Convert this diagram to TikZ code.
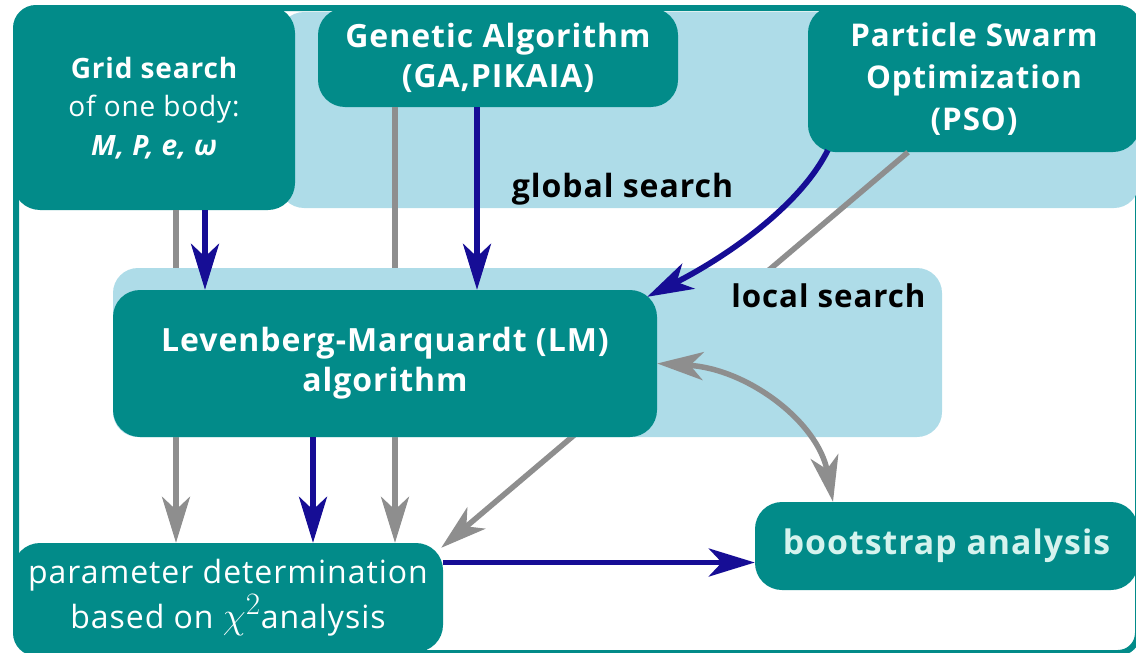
\documentclass[tikz,border=0pt]{standalone}
\usepackage{fontspec}
\setmainfont{Open Sans}[LetterSpace=3]
\usetikzlibrary{arrows.meta}
\definecolor{tealbox}{HTML}{028B89}
\definecolor{lblue}{HTML}{AEDCE8}
\definecolor{navyarr}{HTML}{160D95}
\definecolor{grayarr}{HTML}{8E8E8E}
\definecolor{mint}{HTML}{D5F3EE}
\tikzset{
  tbox/.style={fill=tealbox, rounded corners=27pt, text=white, align=center, inner sep=0pt},
  region/.style={fill=lblue, rounded corners=25pt, inner sep=0pt},
  bluearr/.style={draw=navyarr, line width=5.7pt, -{Stealth[length=46pt,width=28pt,inset=13pt]}},
  grayarr/.style={draw=grayarr, line width=5.5pt, -{Stealth[length=46pt,width=28pt,inset=13pt]}},
  graydbl/.style={draw=grayarr, line width=5.5pt, {Stealth[length=46pt,width=28pt,inset=13pt]}-{Stealth[length=46pt,width=28pt,inset=13pt]}},
  lab/.style={anchor=base, text=black},
}
\begin{document}
\begin{tikzpicture}[x=1pt,y=-1pt]
\useasboundingbox (0,0) rectangle (1136,653);
\clip (0,0) rectangle (1136,653);
% outer frame
\draw[tealbox, line width=6pt, rounded corners=20pt] (16,8) rectangle (1138,653);
% global search region
\node[region, minimum width=860pt, minimum height=196pt] (globalreg) at (709,110) {};
% boxes
\node[tbox, minimum width=282pt, minimum height=204pt, font=\fontsize{28pt}{38.5pt}\selectfont] (grid) at (154,108)
  {\bfseries Grid search\\ of one body:\\ \bfseries\itshape M, P, e, ω};
\node[tbox, minimum width=360pt, minimum height=99pt, font=\fontsize{32pt}{40pt}\selectfont\bfseries] (ga) at (498,57.5)
  {Genetic Algorithm\\ (GA,PIKAIA)};
\node[tbox, minimum width=332pt, minimum height=146pt, font=\fontsize{31.3pt}{42pt}\selectfont\bfseries] (pso) at (974,79)
  {Particle Swarm\\ Optimization\\ (PSO)};
\node[tbox, minimum width=430pt, minimum height=109pt, font=\fontsize{32pt}{45pt}\selectfont] (param) at (228,597.5)
  {parameter determination\\ based on \smash{\scalebox{1.5}{$\chi^2$}}analysis};
\node[tbox, minimum width=383pt, minimum height=88pt, text=mint, font=\fontsize{33.8pt}{40pt}\selectfont\bfseries] (boot) at (946.5,546)
  {bootstrap analysis};
% gray connectors passing behind the local search region
\coordinate (gg) at ([xshift=22pt]grid.south);
\coordinate (ag) at ([xshift=-103pt]ga.south);
\coordinate (pg) at ([xshift=-66pt]pso.south);
\coordinate (pt) at ([xshift=-2pt,yshift=-5pt]param.north east);
\draw[grayarr] (gg) -- (gg |- param.north);
\draw[grayarr] (ag) -- (ag |- param.north);
\draw[grayarr] (pg) -- (pt);
% local search region
\node[region, minimum width=829pt, minimum height=169pt] (localreg) at (527.5,352.5) {};
\node[tbox, minimum width=544pt, minimum height=147pt, font=\fontsize{32pt}{40pt}\selectfont\bfseries] (lm) at (385,363.5)
  {Levenberg-Marquardt (LM)\\ algorithm};
% blue connectors
\coordinate (gb) at ([xshift=51pt]grid.south);
\coordinate (ab) at ([xshift=-21pt]ga.south);
\coordinate (pb) at ([xshift=20pt,yshift=2pt]pso.south west);
\coordinate (lc) at ([xshift=-10pt,yshift=-7pt]lm.north east);
\coordinate (lb) at ([xshift=-72pt]lm.south);
\coordinate (bw) at ([yshift=-16.5pt]boot.west);
\draw[bluearr] (gb) -- (gb |- lm.north);
\draw[bluearr] (ab) -- (ab |- lm.north);
\draw[bluearr] (pb) .. controls +(-30,60) and +(70,-35) .. (lc);
\draw[bluearr] (lb) -- (lb |- param.north);
\draw[bluearr] (param.east |- bw) -- (bw);
% gray double arrow
\coordinate (bt) at ([xshift=-113.5pt]boot.north);
\draw[graydbl] (lm.east) .. controls +(90,5) and +(-15,-80) .. (bt);
% labels
\node[lab, font=\fontsize{32pt}{38pt}\selectfont\bfseries] (glab) at (622.5,197) {global search};
\node[lab, font=\fontsize{31.3pt}{38pt}\selectfont\bfseries] (llab) at (828.5,307) {local search};
\end{tikzpicture}
\end{document}
